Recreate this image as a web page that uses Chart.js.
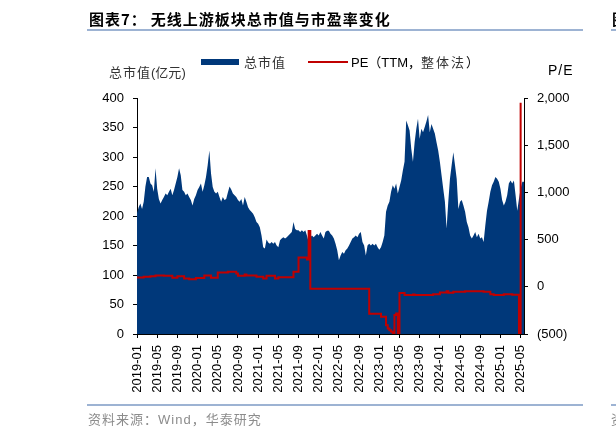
<!DOCTYPE html>
<html>
<head>
<meta charset="utf-8">
<script src="https://cdn.jsdelivr.net/npm/chart.js@4.4.1/dist/chart.umd.min.js"></script>
<style>
  body { margin: 0; width: 616px; height: 434px; overflow: hidden; background: #fff; position: relative; }
  #c { position: absolute; left: 0; top: 0; }
  .t { position: absolute; white-space: nowrap; line-height: 1; }
  .cjk { font-family: "Noto Sans CJK SC", sans-serif; }
  .lat { font-family: "Liberation Sans", "Noto Sans CJK SC", sans-serif; }
  .rule { position: absolute; height: 2px; background: #9db3d3; }
</style>
</head>
<body>
<canvas id="c" width="616" height="434"></canvas>

<div class="t cjk" style="left:89px; top:11px; font-size:15px; font-weight:bold; letter-spacing:1px; color:#000;">图表7：<span style="margin-left:4px">无线上游板块总市值与市盈率变化</span></div>
<div class="t cjk" style="left:612px; top:11px; font-size:15px; font-weight:bold; color:#000;">图表8</div>
<div class="rule" style="left:87px; top:29px; width:496px;"></div>
<div class="rule" style="left:611px; top:29px; width:10px;"></div>

<div style="position:absolute; left:201px; top:59px; width:38px; height:6px; background:#00387a;"></div>
<div class="t cjk" style="left:244px; top:55px; font-size:13px; letter-spacing:1px; color:#333;">总市值</div>
<div style="position:absolute; left:308px; top:61px; width:40px; height:2px; background:#c00000;"></div>
<div class="t lat" style="left:351px; top:55px; font-size:13px; color:#000;">PE（TTM，<span class="cjk" style="color:#333; letter-spacing:2px">整体法</span>）</div>

<div class="t lat" style="left:109px; top:65px; font-size:13px; color:#333;"><span class="cjk" style="letter-spacing:1px">总市值</span>(<span class="cjk">亿元</span>)</div>
<div class="t lat" style="left:548px; top:63px; font-size:14px; letter-spacing:1px; color:#000;">P/E</div>

<div class="rule" style="left:87px; top:404px; width:496px;"></div>
<div class="rule" style="left:611px; top:404px; width:10px;"></div>
<div class="t cjk" style="left:88px; top:412px; font-size:13px; letter-spacing:1px; color:#8c8c8c;">资料来源：<span class="lat">Wind</span>，华泰研究</div>
<div class="t cjk" style="left:611px; top:412px; font-size:13px; color:#8c8c8c;">资料</div>

<script>
// 总市值（亿元），约每10天一个点，2019-01-01 起
const capValues = [
  205, 215, 221, 212, 224, 250, 266, 266, 255, 252,
  241, 281, 246, 229, 221, 227, 232, 238, 235, 241,
  246, 235, 244, 255, 266, 281, 269, 244, 241, 235,
  238, 232, 227, 218, 229, 235, 244, 249, 255, 241,
  252, 266, 286, 311, 272, 249, 241, 238, 241, 232,
  224, 232, 227, 229, 240, 250, 245, 238, 235, 232,
  227, 224, 229, 218, 232, 224, 215, 210, 207, 204,
  198, 190, 187, 181, 167, 147, 145, 160, 155, 153,
  156, 153, 156, 150, 147, 159, 162, 164, 162, 164,
  167, 170, 173, 190, 178, 176, 176, 173, 176, 173,
  176, 167, 156, 164, 167, 164, 167, 170, 167, 173,
  167, 162, 173, 175, 175, 170, 167, 162, 153, 142,
  125, 133, 139, 136, 142, 145, 150, 156, 162, 164,
  167, 164, 170, 173, 156, 150, 133, 150, 153, 150,
  153, 150, 153, 147, 143, 147, 156, 167, 207, 218,
  224, 241, 252, 246, 255, 238, 249, 260, 277, 292,
  362, 354, 345, 314, 292, 325, 348, 365, 331, 348,
  342, 351, 360, 371, 342, 356, 348, 340, 325, 311,
  292, 269, 246, 224, 179, 224, 263, 286, 308, 286,
  263, 212, 224, 227, 218, 207, 190, 181, 167, 162,
  167, 173, 164, 170, 162, 164, 156, 184, 209, 224,
  241, 252, 258, 266, 263, 258, 246, 227, 218, 224,
  235, 255, 260, 255, 260, 235, 209, 229, 246, 258,
  258
];

// PE（TTM，整体法），与上面同一时间点
const peValues = [
  99, 99, 99, 99, 106, 106, 106, 106, 113, 113,
  113, 120, 120, 120, 120, 120, 116, 116, 116, 116,
  116, 95, 95, 95, 113, 113, 113, 113, 88, 88,
  88, 81, 81, 81, 81, 92, 92, 92, 92, 92,
  120, 120, 120, 120, 95, 95, 95, 95, 152, 152,
  152, 152, 152, 152, 159, 159, 159, 159, 159, 141,
  116, 116, 116, 116, 131, 120, 120, 120, 120, 120,
  120, 106, 106, 106, 106, 88, 88, 116, 116, 116,
  116, 116, 88, 88, 102, 102, 102, 102, 102, 102,
  102, 102, 102, 159, 159, 159, 310, 310, 310, 310,
  310, 290, 590, -20, -20, -20, -20, -20, -20, -20,
  -20, -20, -20, -20, -20, -20, -20, -20, -20, -20,
  -20, -20, -20, -20, -20, -20, -20, -20, -20, -20,
  -20, -20, -20, -20, -20, -20, -20, -20, -285, -285,
  -285, -285, -285, -285, -285, -318, -318, -318, -406, -441,
  -459, -477, -494, -300, -282, -515, -65, -65, -65, -88,
  -88, -88, -88, -88, -81, -88, -88, -88, -88, -88,
  -88, -88, -88, -88, -88, -88, -78, -78, -78, -78,
  -60, -60, -60, -60, -46, -64, -64, -64, -53, -53,
  -53, -53, -53, -53, -53, -46, -46, -46, -46, -46,
  -46, -46, -46, -46, -46, -46, -53, -53, -53, -53,
  -78, -78, -88, -88, -88, -88, -88, -88, -78, -78,
  -78, -78, -78, -85, -85, -85, -85, -700, 1950, null,
  null
];

const tickLabels = [
  '2019-01', '2019-05', '2019-09', '2020-01', '2020-05', '2020-09',
  '2021-01', '2021-05', '2021-09', '2022-01', '2022-05', '2022-09',
  '2023-01', '2023-05', '2023-09', '2024-01', '2024-05', '2024-09',
  '2025-01', '2025-05'
];

// 日期：每月 1/11/21 日
const dates = [];
for (let i = 0; i < capValues.length; i++) {
  const m = Math.floor(i / 3);
  const yr = 2019 + Math.floor(m / 12);
  const mo = String((m % 12) + 1).padStart(2, '0');
  dates.push(yr + '-' + mo + '-' + ['01', '11', '21'][i % 3]);
}

const tickFont = { family: 'Liberation Sans', size: 13 };

const chart = new Chart(document.getElementById('c'), {
  type: 'line',
  data: {
    labels: dates,
    datasets: [
      {
        label: 'PE（TTM，整体法）',
        data: peValues,
        yAxisID: 'y1',
        borderColor: '#c00000',
        borderWidth: 2,
        pointRadius: 0,
        stepped: true,
        fill: false,
        order: 0,
      },
      {
        label: '总市值',
        data: capValues,
        yAxisID: 'y',
        borderWidth: 0,
        backgroundColor: '#00387a',
        pointRadius: 0,
        tension: 0,
        fill: 'origin',
        order: 1,
      },
    ],
  },
  options: {
    responsive: false,
    animation: false,
    devicePixelRatio: 1,
    layout: { padding: { left: 77, right: 0, top: 98, bottom: 0 } },
    plugins: { legend: { display: false }, tooltip: { enabled: false } },
    scales: {
      x: {
        type: 'category',
        offset: false,
        afterBuildTicks: (s) => {
          s.ticks = s.ticks.filter((t) => t.value % 12 === 0);
        },
        afterFit: (s) => { s.height = 100; },
        ticks: {
          autoSkip: false,
          maxRotation: 90,
          minRotation: 90,
          padding: 7,
          color: '#000',
          font: tickFont,
          callback: (v) => tickLabels[v / 12],
        },
        grid: { drawOnChartArea: false, tickLength: 4, color: '#000' },
        border: { color: '#000' },
      },
      y: {
        position: 'left',
        min: 0,
        max: 400,
        afterFit: (s) => { s.width = 60; },
        ticks: { stepSize: 50, padding: 9, color: '#000', font: tickFont },
        grid: { drawOnChartArea: false, tickLength: 4, color: '#000' },
        border: { color: '#000' },
      },
      y1: {
        position: 'right',
        min: -500,
        max: 2000,
        afterFit: (s) => { s.width = 92; },
        ticks: {
          stepSize: 500,
          padding: 9,
          color: '#000',
          font: tickFont,
          callback: (v) => (v < 0 ? '(' + (-v) + ')' : v.toLocaleString('en-US')),
        },
        grid: { drawOnChartArea: false, tickLength: 4, color: '#000' },
        border: { color: '#000' },
      },
    },
  },
});
</script>
</body>
</html>
